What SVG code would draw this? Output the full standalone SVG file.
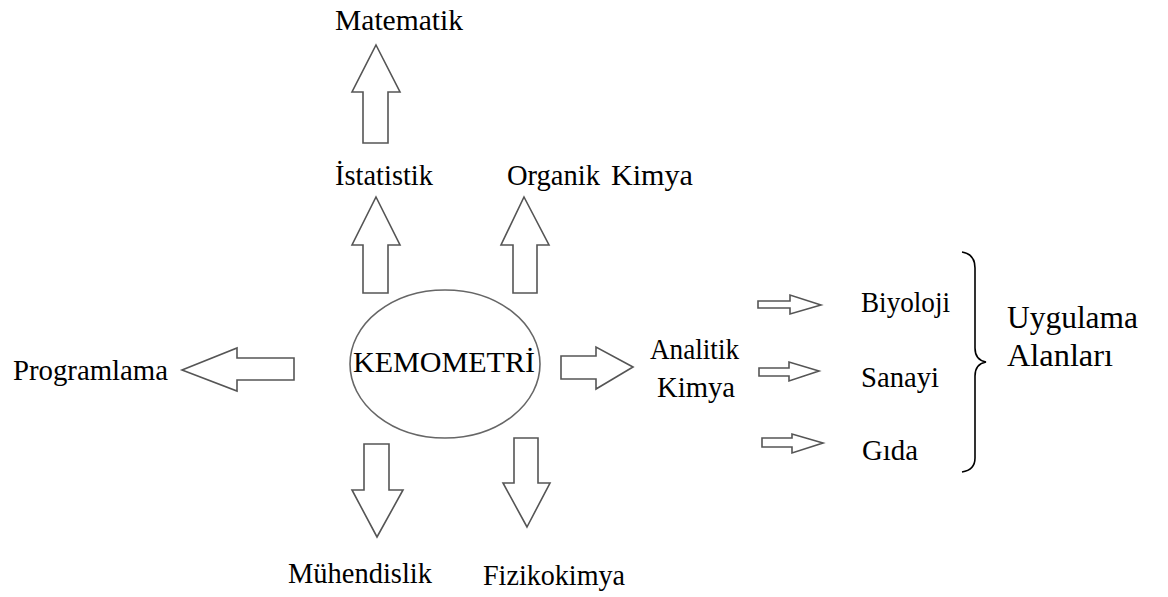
<svg xmlns="http://www.w3.org/2000/svg" width="1168" height="597" viewBox="0 0 1168 597">
<style>
text{font-family:'Liberation Serif','Times New Roman',Times,'DejaVu Serif',serif;font-size:28.5px;fill:#000}
.big{font-size:31px}
.arr{fill:#fff;stroke:#555;stroke-width:1.6;stroke-linejoin:miter}
.ell{fill:#fff;stroke:#666;stroke-width:1.6}
.brace{fill:none;stroke:#000;stroke-width:1.6}
</style>
<rect width="1168" height="597" fill="#fff"/>
<g id="connectors">
  <polygon class="arr" points="376,45 400,92 388,92 388,143 363,143 363,92 352,92"/>
  <polygon class="arr" points="376,197 400,245 388,245 388,293 363,293 363,245 352,245"/>
  <polygon class="arr" points="524,197 549,245 537,245 537,293 513,293 513,245 501,245"/>
  <polygon class="arr" points="182,370 237,348 237,358 294,358 294,380 237,380 237,391"/>
  <polygon class="arr" points="633,367 596,347 596,356 561,356 561,379 596,379 596,389"/>
  <polygon class="arr" points="377,537 403,490 389,490 389,444 364,444 364,490 352,490"/>
  <polygon class="arr" points="527,527 550,483 538,483 538,438 514,438 514,483 503,483"/>
  <polygon class="arr" points="821,305 790,295 790,301 758,301 758,308 790,308 790,314"/>
  <polygon class="arr" points="819,371 789,362 789,368 759,368 759,376 789,376 789,381"/>
  <polygon class="arr" points="823,443 792,434 792,438 762,438 762,447 792,447 792,453"/>
  <path class="brace" d="M962,252 Q975,254 975,268 L975,348 Q975,360 986,362 Q975,364 975,376 L975,458 Q975,470 962,472"/>
</g>
<g id="kemometri">
  <ellipse class="ell" cx="445" cy="364" rx="95" ry="74"/>
  <text font-family="Liberation Serif" x="353" y="372" style="font-size:30px" textLength="182" lengthAdjust="spacingAndGlyphs">KEMOMETRİ</text>
</g>
<g id="matematik"><text font-family="Liberation Serif" x="335" y="30" textLength="128" lengthAdjust="spacingAndGlyphs">Matematik</text></g>
<g id="istatistik"><text font-family="Liberation Serif" x="335" y="185" textLength="98" lengthAdjust="spacingAndGlyphs">İstatistik</text></g>
<g id="organik-kimya">
  <text font-family="Liberation Serif" x="507" y="185" textLength="93" lengthAdjust="spacingAndGlyphs">Organik</text>
  <text font-family="Liberation Serif" x="611" y="185" textLength="82" lengthAdjust="spacingAndGlyphs">Kimya</text>
</g>
<g id="programlama"><text font-family="Liberation Serif" x="13" y="380" textLength="155" lengthAdjust="spacingAndGlyphs">Programlama</text></g>
<g id="analitik-kimya">
  <text font-family="Liberation Serif" x="650" y="359" textLength="89" lengthAdjust="spacingAndGlyphs">Analitik</text>
  <text font-family="Liberation Serif" x="657" y="397" textLength="78" lengthAdjust="spacingAndGlyphs">Kimya</text>
</g>
<g id="biyoloji"><text font-family="Liberation Serif" x="861" y="312" textLength="89" lengthAdjust="spacingAndGlyphs">Biyoloji</text></g>
<g id="sanayi"><text font-family="Liberation Serif" x="861" y="387" textLength="78" lengthAdjust="spacingAndGlyphs">Sanayi</text></g>
<g id="gida"><text font-family="Liberation Serif" x="862" y="460" textLength="56" lengthAdjust="spacingAndGlyphs">Gıda</text></g>
<g id="uygulama-alanlari">
  <text class="big" font-family="Liberation Serif" x="1007" y="328" textLength="131" lengthAdjust="spacingAndGlyphs">Uygulama</text>
  <text class="big" font-family="Liberation Serif" x="1007" y="366" textLength="106" lengthAdjust="spacingAndGlyphs">Alanları</text>
</g>
<g id="muhendislik"><text font-family="Liberation Serif" x="288" y="583" textLength="144" lengthAdjust="spacingAndGlyphs">Mühendislik</text></g>
<g id="fizikokimya"><text font-family="Liberation Serif" x="483" y="585" textLength="142" lengthAdjust="spacingAndGlyphs">Fizikokimya</text></g>
</svg>
